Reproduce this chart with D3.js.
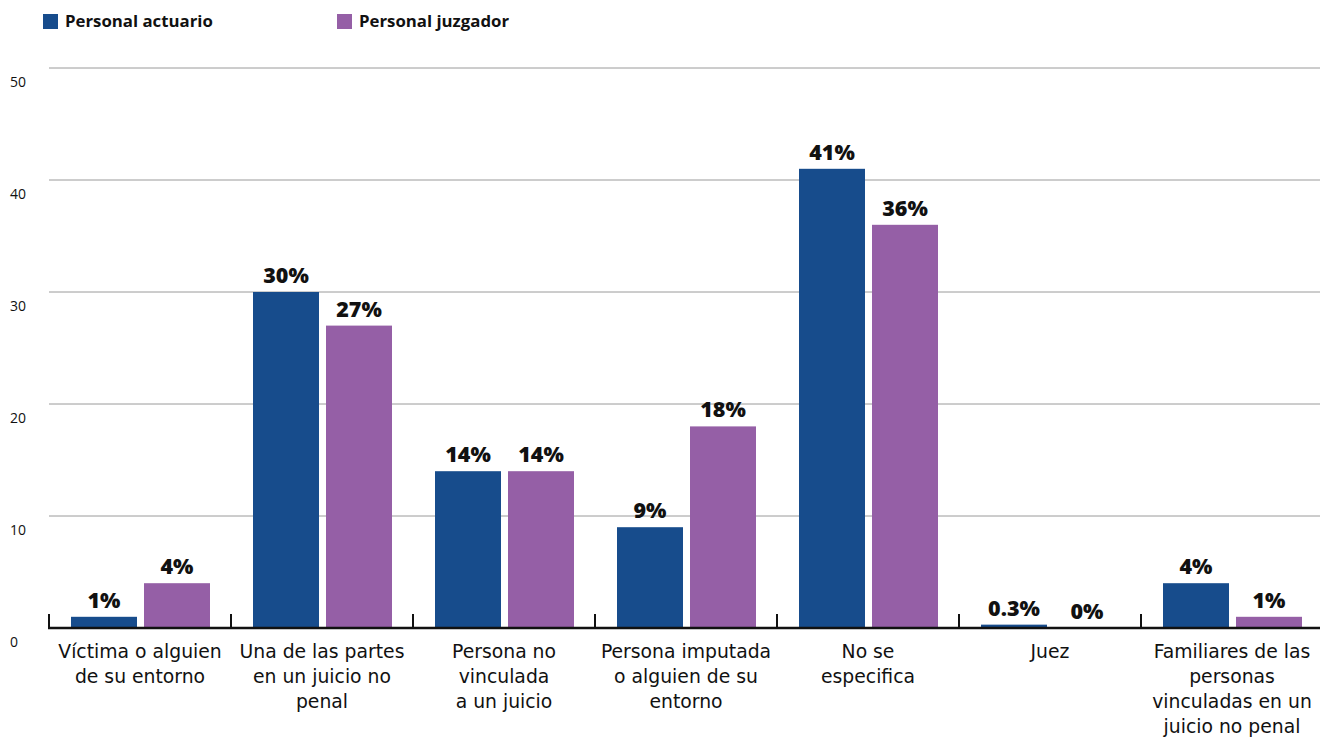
<!DOCTYPE html>
<html>
<head>
<meta charset="utf-8">
<script src="https://cdn.jsdelivr.net/npm/d3@7"></script>
<style>
  html, body { margin: 0; padding: 0; background: #fff; }
  svg { display: block; }
</style>
</head>
<body>
<svg id="chart" width="1320" height="737"></svg>
<script>
const categories = [
  ["Víctima o alguien", "de su entorno"],
  ["Una de las partes", "en un juicio no", "penal"],
  ["Persona no", "vinculada", "a un juicio"],
  ["Persona imputada", "o alguien de su", "entorno"],
  ["No se", "especifica"],
  ["Juez"],
  ["Familiares de las", "personas", "vinculadas en un", "juicio no penal"]
];
const seriesNames = ["Personal actuario", "Personal juzgador"];
const actuario = [1, 30, 14, 9, 41, 0.3, 4];
const juzgador = [4, 27, 14, 18, 36, 0, 1];
const yTicks = [0, 10, 20, 30, 40, 50];
const colors = ["#174c8c", "#955fa6"];

const svg = d3.select("#chart");
const font = "'Open Sans', 'Noto Sans', sans-serif";
const labelFont = "'DejaVu Sans', 'Open Sans', sans-serif";

const x0 = d3.scaleBand().domain(d3.range(categories.length)).range([49, 1323]).paddingInner(0).paddingOuter(0);
const x1 = d3.scaleBand().domain([0, 1]).range([22, 161]).paddingInner(0.096);
const y = d3.scaleLinear().domain([0, 50]).range([628, 68]);

// gridlines
svg.append("g").selectAll("line").data(yTicks.filter(d => d > 0)).join("line")
  .attr("x1", 49).attr("x2", 1320)
  .attr("y1", d => y(d)).attr("y2", d => y(d))
  .attr("stroke", "#9a9a9a").attr("stroke-width", 1);

// y tick labels, set just below each gridline
svg.append("g").selectAll("text").data(yTicks).join("text")
  .attr("x", 10).attr("y", d => y(d) + 19)
  .attr("font-family", font).attr("font-size", 14).attr("fill", "#111")
  .text(d => d);

// bars
const data = categories.map((c, i) => ({ i, vals: [actuario[i], juzgador[i]] }));
const groups = svg.append("g").selectAll("g").data(data).join("g")
  .attr("transform", d => `translate(${x0(d.i)},0)`);

groups.selectAll("rect").data(d => d.vals.map((v, s) => ({ v, s }))).join("rect")
  .attr("x", d => x1(d.s)).attr("width", x1.bandwidth())
  .attr("y", d => y(d.v)).attr("height", d => y(0) - y(d.v))
  .attr("fill", d => colors[d.s]);

groups.selectAll("text.val").data(d => d.vals.map((v, s) => ({ v, s }))).join("text")
  .attr("class", "val")
  .attr("x", d => x1(d.s) + x1.bandwidth() / 2)
  .attr("y", d => y(d.v) - 9)
  .attr("text-anchor", "middle")
  .attr("font-family", font).attr("font-weight", 800).attr("font-size", 21.5).attr("fill", "#111")
  .text(d => d.v + "%");

// x axis baseline and ticks
svg.append("line").attr("x1", 48).attr("x2", 1320).attr("y1", 628).attr("y2", 628)
  .attr("stroke", "#111").attr("stroke-width", 2.5);
svg.append("g").selectAll("line").data(d3.range(categories.length)).join("line")
  .attr("x1", d => x0(d)).attr("x2", d => x0(d))
  .attr("y1", 614).attr("y2", 628)
  .attr("stroke", "#111").attr("stroke-width", 2);

// category labels
const labels = svg.append("g").selectAll("text").data(categories).join("text")
  .attr("text-anchor", "middle")
  .attr("font-family", labelFont).attr("font-size", 18.8).attr("fill", "#111")
  .attr("transform", (d, i) => `translate(${x0(i) + x0.bandwidth() / 2},658)`);
labels.selectAll("tspan").data(d => d).join("tspan")
  .attr("x", 0).attr("y", (d, j) => j * 25)
  .text(d => d);

// legend
const legendX = [43, 337];
const lg = svg.append("g").selectAll("g").data(seriesNames).join("g")
  .attr("transform", (d, i) => `translate(${legendX[i]},14)`);
lg.append("rect").attr("width", 15).attr("height", 15).attr("fill", (d, i) => colors[i]);
lg.append("text").attr("x", 22).attr("y", 13)
  .attr("font-family", font).attr("font-weight", 700).attr("font-size", 16.8).attr("fill", "#111")
  .text(d => d);
</script>
</body>
</html>
